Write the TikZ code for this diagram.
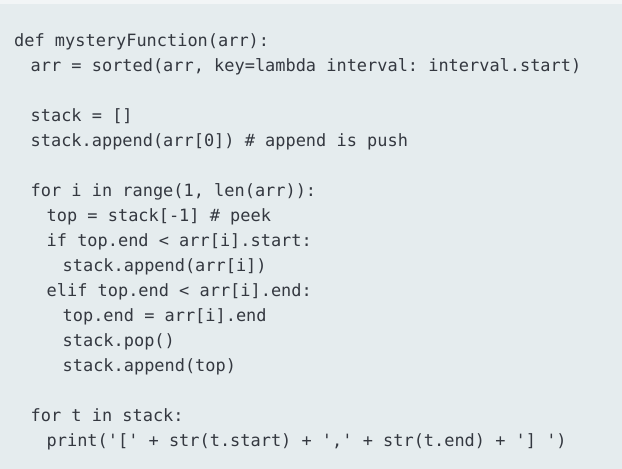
\documentclass[tikz,border=0pt]{standalone}
\usepackage{fontspec}
\usepackage{tikz}
\newfontfamily\codefont{DejaVu Sans Mono}
\definecolor{codebg}{RGB}{229,236,238}
\definecolor{stripbg}{RGB}{242,245,246}
\definecolor{codetext}{RGB}{52,56,64}
\tikzset{
	codeline/.style={anchor=base west, inner sep=0pt, text=codetext, font=\codefont\fontsize{17}{25}\selectfont\frenchspacing}
}

\begin{document}
\begin{tikzpicture}[x=1bp, y=1bp]
		%%%%% START %%%%%
		\useasboundingbox (0, 0) rectangle (622, 469);
		\draw[fill=codebg, draw=none] (0, 0) rectangle (622, 465);
		\draw[fill=stripbg, draw=none] (0, 465) rectangle (622, 469);
		
		\node[codeline] (def) at (14, 422) {def mysteryFunction(arr):};
		\node[codeline] (sort) at (30.5, 397) {arr = sorted(arr, key=lambda interval: interval.start)};
		
		\node[codeline] (init) at (30.5, 347) {stack = []};
		\node[codeline] (push) at (30.5, 322) {stack.append(arr[0]) \# append is push};
		
		\node[codeline] (loop) at (30.5, 272) {for i in range(1, len(arr)):};
		\node[codeline] (peek) at (46.5, 247) {top = stack[-1] \# peek};
		\node[codeline] (iftest) at (46.5, 222) {if top.end < arr[i].start:};
		\node[codeline] (pushnew) at (62.5, 197) {stack.append(arr[i])};
		\node[codeline] (eliftest) at (46.5, 172) {elif top.end < arr[i].end:};
		\node[codeline] (extend) at (62.5, 147) {top.end = arr[i].end};
		\node[codeline] (pop) at (62.5, 122) {stack.pop()};
		\node[codeline] (pushtop) at (62.5, 97) {stack.append(top)};
		
		\node[codeline] (outloop) at (30.5, 47) {for t in stack:};
		\node[codeline] (print) at (46.5, 22) {print('[' + str(t.start) + ',' + str(t.end) + '] ')};
		%%%%% END %%%%%
	\end{tikzpicture}
\end{document}
